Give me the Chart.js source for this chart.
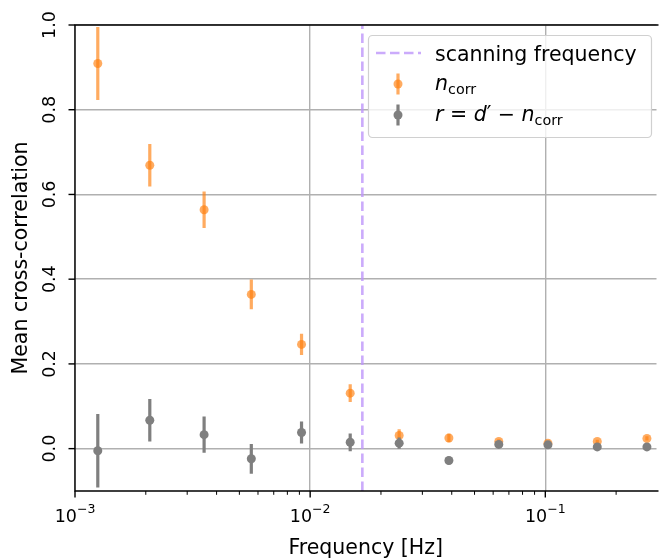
<!DOCTYPE html>
<html>
<head>
<meta charset="utf-8">
<script src="https://cdn.jsdelivr.net/npm/chart.js@4/dist/chart.umd.min.js"></script>
<style>
  html, body { margin: 0; padding: 0; background: #fff; }
  #wrap { width: 661px; height: 558px; }
</style>
</head>
<body>
<div id="wrap"><canvas id="xcorr_chart" width="661" height="558"></canvas></div>
<script>
// frequencies of each band [Hz]
const freqs = [0.00125, 0.00208, 0.00354, 0.00562, 0.00919, 0.0148, 0.0239, 0.0389, 0.0634, 0.1026, 0.1663, 0.2704];
// n_corr with error
const nCorr = [0.909, 0.669, 0.564, 0.364, 0.246, 0.131, 0.031, 0.025, 0.017, 0.013, 0.017, 0.024];
const nCorrErr = [0.086, 0.050, 0.043, 0.035, 0.025, 0.021, 0.015, 0.010, 0.005, 0.004, 0.004, 0.005];
// r = d' - n_corr with error
const rVals = [-0.005, 0.067, 0.033, -0.024, 0.038, 0.015, 0.013, -0.028, 0.010, 0.009, 0.004, 0.004];
const rErr = [0.087, 0.050, 0.043, 0.035, 0.026, 0.021, 0.013, 0.009, 0.006, 0.005, 0.004, 0.004];
const scanFreq = 1 / 60;
const xTicks = [1e-3, 1e-2, 1e-1];
const xTickExps = ["\u22123", "\u22122", "\u22121"];
const yTicks = [0, 0.2, 0.4, 0.6, 0.8, 1.0];
const yTickLabels = ["0.0", "0.2", "0.4", "0.6", "0.8", "1.0"];

const ORANGE = "rgba(255,127,14,0.66)";
const GREY = "#7f7f7f";
const PURPLE = "rgba(190,150,250,0.8)";
const FONT = "'DejaVu Sans', sans-serif";

const toPts = (ys) => freqs.map((f, i) => ({ x: f, y: ys[i] }));

// error bars drawn right before the markers of each dataset
const errorBars = {
  id: "errorBars",
  beforeDatasetDraw(chart, args) {
    const ds = chart.data.datasets[args.index];
    if (!ds.errors) return;
    const { ctx, chartArea: a } = chart;
    const xs = chart.scales.x, ys = chart.scales.y;
    ctx.save();
    ctx.beginPath();
    ctx.rect(a.left, a.top, a.right - a.left, a.bottom - a.top);
    ctx.clip();
    ctx.strokeStyle = ds.backgroundColor;
    ctx.lineWidth = 3.2;
    ds.data.forEach((p, i) => {
      const e = ds.errors[i];
      const px = xs.getPixelForValue(p.x);
      ctx.beginPath();
      ctx.moveTo(px, ys.getPixelForValue(p.y - e));
      ctx.lineTo(px, ys.getPixelForValue(p.y + e));
      ctx.stroke();
    });
    ctx.restore();
  },
};

// draws a string with mathtext-like parts: [text, style] where style: i=italic, s=subscript, u=upright
function drawParts(ctx, parts, x, y, size) {
  parts.forEach(([t, st]) => {
    let sz = size, dy = 0, sty = "";
    if (st === "i") sty = "oblique ";
    if (st === "s") { sz = size * 0.7; dy = size * 0.2; }
    ctx.font = sty + sz + "px " + FONT;
    ctx.fillText(t, x, y + dy);
    x += ctx.measureText(t).width;
  });
  return x;
}

const axesDecor = {
  id: "axesDecor",
  afterDraw(chart) {
    const { ctx, chartArea: a } = chart;
    const xs = chart.scales.x, ys = chart.scales.y;
    ctx.save();
    ctx.strokeStyle = "#000";
    ctx.fillStyle = "#000";
    ctx.lineWidth = 1.4;
    // spines
    ctx.beginPath();
    ctx.moveTo(a.right + 2, a.top); ctx.lineTo(a.left, a.top);
    ctx.lineTo(a.left, a.bottom); ctx.lineTo(a.right + 2, a.bottom);
    ctx.stroke();

    // y ticks + rotated labels
    ctx.textAlign = "center";
    ctx.textBaseline = "alphabetic";
    ctx.font = "17.5px " + FONT;
    yTicks.forEach((v, i) => {
      const py = ys.getPixelForValue(v);
      ctx.beginPath(); ctx.moveTo(a.left - 6.5, py); ctx.lineTo(a.left, py); ctx.stroke();
      ctx.save();
      ctx.translate(a.left - 20, py);
      ctx.rotate(-Math.PI / 2);
      ctx.fillText(yTickLabels[i], 0, 0);
      ctx.restore();
    });

    // x ticks: majors with labels, minors
    xTicks.forEach((v, i) => {
      const px = xs.getPixelForValue(v);
      ctx.lineWidth = 1.4;
      ctx.beginPath(); ctx.moveTo(px, a.bottom); ctx.lineTo(px, a.bottom + 6.5); ctx.stroke();
      ctx.textAlign = "left";
      ctx.font = "17.5px " + FONT;
      const w1 = ctx.measureText("10").width;
      ctx.font = "12.5px " + FONT;
      const w2 = ctx.measureText(xTickExps[i]).width;
      const x0 = px - (w1 + w2) / 2;
      ctx.font = "17.5px " + FONT;
      ctx.fillText("10", x0, a.bottom + 31);
      ctx.font = "12.5px " + FONT;
      ctx.fillText(xTickExps[i], x0 + w1, a.bottom + 22);
      for (let k = 2; k <= 9; k++) {
        const mv = v * k;
        if (mv > xs.max) break;
        const mx = xs.getPixelForValue(mv);
        ctx.lineWidth = 1;
        ctx.beginPath(); ctx.moveTo(mx, a.bottom); ctx.lineTo(mx, a.bottom + 3.8); ctx.stroke();
      }
    });

    // axis titles
    ctx.textAlign = "center";
    ctx.font = "20.5px " + FONT;
    ctx.fillText("Frequency [Hz]", (a.left + a.right) / 2, 554);
    ctx.save();
    ctx.translate(27, (a.top + a.bottom) / 2);
    ctx.rotate(-Math.PI / 2);
    ctx.fillText("Mean cross-correlation", 0, 0);
    ctx.restore();

    // legend
    const lx = 368, ly = 35, lw = 283, lh = 102;
    ctx.beginPath();
    ctx.roundRect(lx + 0.5, ly + 0.5, lw, lh, 4);
    ctx.fillStyle = "rgba(255,255,255,0.8)";
    ctx.fill();
    ctx.strokeStyle = "#d0d0d0";
    ctx.lineWidth = 1.2;
    ctx.stroke();

    ctx.strokeStyle = PURPLE;
    ctx.lineWidth = 2.6;
    ctx.setLineDash([9.5, 4.5]);
    ctx.beginPath(); ctx.moveTo(376, 53); ctx.lineTo(421, 53); ctx.stroke();
    ctx.setLineDash([]);

    const marker = (cx, cy, col) => {
      ctx.strokeStyle = col; ctx.fillStyle = col; ctx.lineWidth = 3.2;
      ctx.beginPath(); ctx.moveTo(cx, cy - 10.5); ctx.lineTo(cx, cy + 10.5); ctx.stroke();
      ctx.beginPath(); ctx.arc(cx, cy, 4.5, 0, Math.PI * 2); ctx.fill();
    };
    marker(398, 84, ORANGE);
    marker(398, 115, GREY);

    ctx.fillStyle = "#000";
    ctx.textAlign = "left";
    ctx.font = "20.5px " + FONT;
    ctx.fillText("scanning frequency", 435, 61);
    drawParts(ctx, [["n", "i"], ["corr", "s"]], 435, 90, 20.5);
    drawParts(ctx, [["r", "i"], [" = ", "u"], ["d", "i"], ["\u2032", "u"], [" \u2212 ", "u"], ["n", "i"], ["corr", "s"]], 435, 121, 20.5);
    ctx.restore();
  },
};

const ctxEl = document.getElementById("xcorr_chart");
window.xcorr_chart = new Chart(ctxEl, {
  type: "scatter",
  data: {
    datasets: [
      {
        label: "r = d' - n_corr",
        data: toPts(rVals),
        errors: rErr,
        backgroundColor: GREY,
        pointRadius: 4.5,
        pointBorderWidth: 0,
        order: 0,
      },
      {
        label: "n_corr",
        data: toPts(nCorr),
        errors: nCorrErr,
        backgroundColor: ORANGE,
        pointRadius: 4.5,
        pointBorderWidth: 0,
        order: 1,
      },
      {
        label: "scanning frequency",
        type: "line",
        data: [{ x: scanFreq, y: -0.1 }, { x: scanFreq, y: 1.0 }],
        borderColor: PURPLE,
        borderWidth: 2.6,
        borderDash: [9.5, 4.5],
        pointRadius: 0,
        fill: false,
        order: 2,
      },
    ],
  },
  options: {
    responsive: false,
    animation: false,
    layout: { padding: { left: 75, top: 25, right: 0, bottom: 67 } },
    plugins: { legend: { display: false }, tooltip: { enabled: false } },
    scales: {
      x: {
        type: "logarithmic",
        min: 1e-3,
        max: 0.297,
        afterBuildTicks: (axis) => { axis.ticks = xTicks.map((v) => ({ value: v })); },
        ticks: { display: false },
        grid: { color: "#b0b0b0", lineWidth: 1.4, drawTicks: false },
        border: { display: false },
      },
      y: {
        min: -0.1,
        max: 1.0,
        afterBuildTicks: (axis) => { axis.ticks = yTicks.map((v) => ({ value: v })); },
        ticks: { display: false },
        grid: { color: "#b0b0b0", lineWidth: 1.4, drawTicks: false },
        border: { display: false },
      },
    },
  },
  plugins: [errorBars, axesDecor],
});
</script>
</body>
</html>
